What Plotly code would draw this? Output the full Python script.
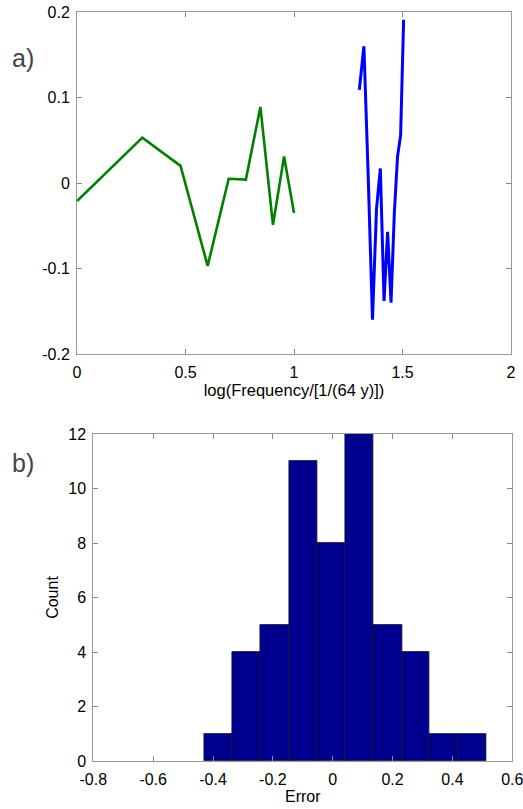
import numpy as np
import plotly.graph_objects as go

# ---- Data ----
green_freq = [1, 2, 3, 4, 5, 6, 7, 8, 9, 10]
green_vals = [-0.021, 0.053, 0.020, -0.097, 0.005, 0.004, 0.089, -0.049, 0.031, -0.035]
blue_freq = [20, 21, 22, 23, 24, 25, 26, 27, 28, 29, 30, 31, 32]
blue_vals = [0.109, 0.160, 0.004, -0.160, -0.030, 0.017, -0.138, -0.057, -0.140, -0.035, 0.031, 0.056, 0.191]

bin_edges = [-0.428, -0.334, -0.241, -0.145, -0.050, 0.043, 0.135, 0.231, 0.324, 0.418, 0.512]
counts = [1, 4, 5, 11, 8, 12, 5, 4, 1, 1]

top_xticks = [0, 0.5, 1, 1.5, 2]
top_xticklabels = ["0", "0.5", "1", "1.5", "2"]
top_yticks = [-0.2, -0.1, 0, 0.1, 0.2]
top_yticklabels = ["-0.2", "-0.1", "0", "0.1", "0.2"]
bot_xticks = [-0.8, -0.6, -0.4, -0.2, 0, 0.2, 0.4, 0.6]
bot_xticklabels = ["-0.8", "-0.6", "-0.4", "-0.2", "0", "0.2", "0.4", "0.6"]
bot_yticks = [0, 2, 4, 6, 8, 10, 12]

W, H = 523, 809
FONT = "Liberation Sans, Arial, sans-serif"
FS = 16

centers = [(a + b) / 2 for a, b in zip(bin_edges[:-1], bin_edges[1:])]
widths = [b - a for a, b in zip(bin_edges[:-1], bin_edges[1:])]

fig = go.Figure()
fig.add_trace(go.Scatter(x=np.log10(green_freq), y=green_vals, mode="lines",
                         line=dict(color="rgb(0,128,0)", width=2.6),
                         xaxis="x", yaxis="y", showlegend=False))
fig.add_trace(go.Scatter(x=np.log10(blue_freq), y=blue_vals, mode="lines",
                         line=dict(color="rgb(0,0,255)", width=3),
                         xaxis="x", yaxis="y", showlegend=False))
fig.add_trace(go.Bar(x=centers, y=counts, width=widths,
                     marker=dict(color="rgb(0,0,143)", line=dict(color="rgb(20,20,40)", width=0.8)),
                     xaxis="x2", yaxis="y2", showlegend=False))

axis_common = dict(showline=True, linecolor="#999999", linewidth=1, mirror="ticks",
                   ticks="inside", ticklen=5, tickcolor="#888888", showgrid=False,
                   zeroline=False, automargin=False, ticklabeloverflow="allow",
                   tickfont=dict(family=FONT, size=FS, color="black"))

fig.update_layout(
    template="none",
    width=W, height=H,
    margin=dict(l=0, r=0, t=0, b=0),
    paper_bgcolor="white", plot_bgcolor="white",
    font=dict(family=FONT, size=FS, color="black"),
    xaxis=dict(domain=[77 / W, 511 / W], range=[0, 2], tickvals=top_xticks, ticktext=top_xticklabels,
               anchor="y", ticklabelstandoff=4,
               title=dict(text="log(Frequency/[1/(64 y)])", font=dict(size=16.5), standoff=3),
               **axis_common),
    yaxis=dict(domain=[1 - 354 / H, 1 - 12 / H], range=[-0.2, 0.2], tickvals=top_yticks,
               ticktext=top_yticklabels, anchor="x", ticklabelstandoff=3, **axis_common),
    xaxis2=dict(domain=[93.3 / W, 512.3 / W], range=[-0.8, 0.6], tickvals=bot_xticks,
                ticktext=bot_xticklabels, anchor="y2", ticklabelstandoff=4,
                title=dict(text="Error", font=dict(size=FS), standoff=3), **axis_common),
    yaxis2=dict(domain=[1 - 761 / H, 1 - 434 / H], range=[0, 12], tickvals=bot_yticks, anchor="x2",
                ticklabelstandoff=3,
                title=dict(text="Count", font=dict(size=FS), standoff=5), **axis_common),
    bargap=0,
    annotations=[
        dict(text="a)", x=10 / W, y=1 - 58 / H, xref="paper", yref="paper", xanchor="left",
             yanchor="middle", showarrow=False, font=dict(family=FONT, size=25, color="#444444")),
        dict(text="b)", x=10 / W, y=1 - 463 / H, xref="paper", yref="paper", xanchor="left",
             yanchor="middle", showarrow=False, font=dict(family=FONT, size=25, color="#444444")),
    ],
)

fig.write_html("out.html")
